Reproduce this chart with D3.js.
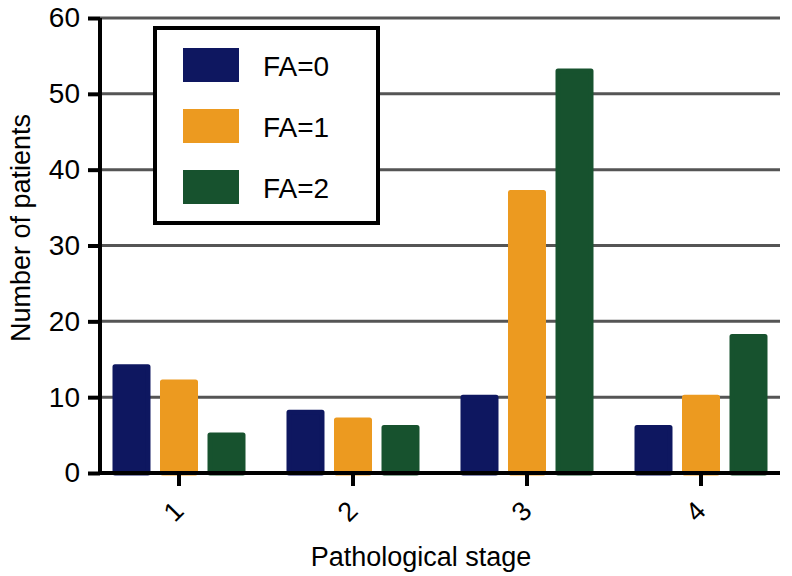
<!DOCTYPE html>
<html>
<head>
<meta charset="utf-8">
<script src="https://cdn.jsdelivr.net/npm/d3@7"></script>
<style>
  body { margin: 0; background: white; }
  text { font-family: "Liberation Sans", Arial, sans-serif; fill: black; }
</style>
</head>
<body>
<div id="canvas"></div>
<script>
var stages = ["1", "2", "3", "4"];
var series = ["FA=0", "FA=1", "FA=2"];
var fa0 = [14, 8, 10, 6];
var fa1 = [12, 7, 37, 10];
var fa2 = [5, 6, 53, 18];
var yTicks = [0, 10, 20, 30, 40, 50, 60];
var colors = ["#0e1760", "#ec9a20", "#17522e"];

var width = 792, height = 576;
var plotLeft = 100, plotRight = 780, plotTop = 18, plotBottom = 473;

var svg = d3.select("#canvas").append("svg").attr("width", width).attr("height", height);

var y = d3.scaleLinear().domain([0, 60]).range([plotBottom, plotTop]);
var x0 = d3.scaleBand().domain(stages).range([92, 788]).paddingInner(0.2356).paddingOuter(0.1178);
var x1 = d3.scaleBand().domain(series).range([0, x0.bandwidth()]).paddingInner(0.2);

// gridlines
svg.append("g").selectAll("line").data(yTicks.slice(1))
    .enter().append("line")
    .attr("x1", plotLeft).attr("x2", plotRight)
    .attr("y1", d => y(d)).attr("y2", d => y(d))
    .attr("stroke", "#555")
    .attr("stroke-width", 3);

// bars
var rows = stages.map((s, i) => ({stage: s, vals: [fa0[i], fa1[i], fa2[i]]}));
var sw = 5;
svg.append("g").selectAll("g").data(rows)
    .enter().append("g")
    .attr("transform", d => "translate(" + x0(d.stage) + ",0)")
    .selectAll("rect").data(d => d.vals.map((v, j) => ({key: series[j], v: v, c: colors[j]})))
    .enter().append("rect")
    .attr("x", d => x1(d.key) + sw / 2)
    .attr("width", x1.bandwidth() - sw)
    .attr("y", d => y(d.v))
    .attr("height", d => y(0) - y(d.v))
    .attr("fill", d => d.c)
    .attr("stroke", d => d.c)
    .attr("stroke-width", sw)
    .attr("stroke-linejoin", "round");

// y axis
var yAxis = svg.append("g").attr("transform", "translate(" + plotLeft + ",0)")
    .call(d3.axisLeft(y).tickValues(yTicks).tickSize(12).tickPadding(8));
yAxis.select(".domain").attr("stroke", "black").attr("stroke-width", 4).attr("d", "M0," + (plotBottom + 2) + "V" + plotTop);
yAxis.selectAll(".tick line").attr("stroke", "black").attr("stroke-width", 4);
yAxis.selectAll(".tick text").style("font-size", "28px").style("font-family", "Liberation Sans, Arial, sans-serif").attr("fill", "black");

// x axis
var xAxis = svg.append("g").attr("transform", "translate(0," + plotBottom + ")")
    .call(d3.axisBottom(x0).tickSize(13).tickPadding(8));
xAxis.select(".domain").attr("stroke", "black").attr("stroke-width", 4).attr("d", "M" + (plotLeft - 2) + ",0H" + plotRight);
xAxis.selectAll(".tick line").attr("stroke", "black").attr("stroke-width", 4);
xAxis.selectAll(".tick text")
    .style("font-size", "27px").style("font-family", "Liberation Sans, Arial, sans-serif").attr("fill", "black")
    .attr("text-anchor", "middle").attr("dy", null)
    .attr("transform", "translate(-4,40) rotate(-45)").attr("y", 0).attr("dominant-baseline", "middle");

// axis titles
svg.append("text")
    .attr("transform", "translate(30,228) rotate(-90)")
    .attr("text-anchor", "middle")
    .style("font-size", "27px")
    .text("Number of patients");
svg.append("text")
    .attr("x", 421).attr("y", 566)
    .attr("text-anchor", "middle")
    .style("font-size", "27px")
    .text("Pathological stage");

// legend
var legend = svg.append("g");
legend.append("rect")
    .attr("x", 155).attr("y", 28).attr("width", 223).attr("height", 195)
    .attr("fill", "white").attr("stroke", "black").attr("stroke-width", 4);
var items = legend.selectAll("g.item").data(series).enter().append("g").attr("class", "item")
    .attr("transform", (d, i) => "translate(183," + (48 + i * 61) + ")");
items.append("rect").attr("width", 56).attr("height", 34).attr("fill", (d, i) => colors[i]);
items.append("text").attr("x", 80).attr("y", 18).attr("dominant-baseline", "central")
    .style("font-size", "28px").text(d => d);
</script>
</body>
</html>
